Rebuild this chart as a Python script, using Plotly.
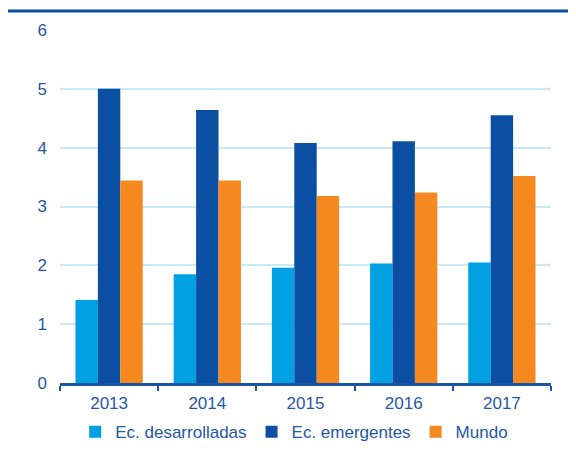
import plotly.graph_objects as go

# data
years = ["2013", "2014", "2015", "2016", "2017"]
desarrolladas = [1.41, 1.85, 1.96, 2.03, 2.05]
emergentes = [5.00, 4.64, 4.08, 4.11, 4.55]
mundo = [3.44, 3.44, 3.18, 3.24, 3.52]

series_names = ["Ec. desarrolladas", "Ec. emergentes", "Mundo"]
colors = ["#00a0e3", "#0b4fa3", "#f5891f"]
txt = "#1f58a6"
font = "Liberation Sans, Arial, sans-serif"

fig = go.Figure()
for name, vals, col in zip(series_names, [desarrolladas, emergentes, mundo], colors):
    fig.add_trace(go.Bar(x=years, y=vals, name=name, marker_color=col,
                         marker_line_width=0))

# the page body adds 8px around the figure, so the figure is 8px smaller
fig.update_layout(
    width=568, height=453,
    margin=dict(l=52, r=25, t=22, b=77),
    paper_bgcolor="white", plot_bgcolor="white",
    barmode="group", bargap=0.315, bargroupgap=0,
    font=dict(family=font, size=17, color=txt),
    legend=dict(orientation="h", x=0.477, xanchor="center", y=-0.136, yanchor="middle",
                font=dict(size=17, color=txt), itemclick=False, tracegroupgap=0),
    showlegend=True,
)

fig.update_yaxes(range=[0, 6], dtick=1, showgrid=True, gridcolor="#c8e9f8", gridwidth=1.5,
                 zeroline=False, showline=False, ticks="", ticklabelstandoff=12,
                 tickfont=dict(size=17, color=txt))
fig.update_xaxes(showline=True, linecolor="#1a55a5", linewidth=2.5, ticks="outside",
                 tickson="boundaries", ticklen=5, tickwidth=2, tickcolor="#1a55a5",
                 tickfont=dict(size=17, color=txt), ticklabelstandoff=3)

# top rule
fig.add_shape(type="line", xref="paper", yref="paper", x0=-0.11, x1=1.06,
              y0=1.0537, y1=1.0537, line=dict(color="#0b4fa3", width=3))

fig.write_html("out.html")
